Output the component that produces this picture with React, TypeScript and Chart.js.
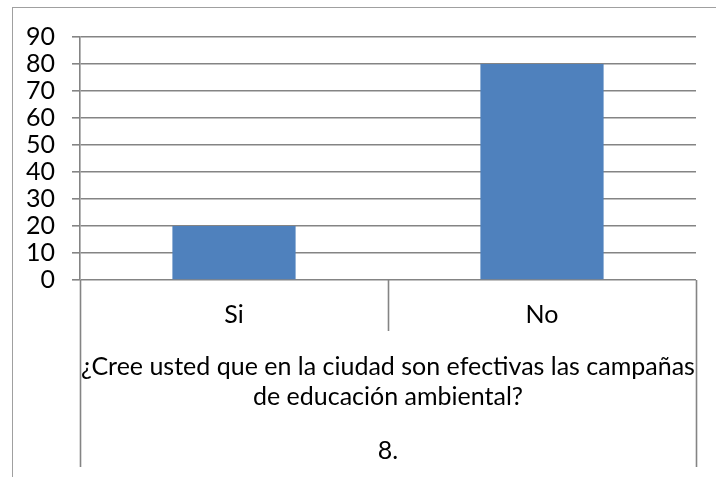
import React, { useEffect, useRef } from "react";
import { Chart, registerables } from "chart.js";

Chart.register(...registerables);

const categories = ["Si", "No"];
const values = [20, 80];
const groupLabelLines = [
  "¿Cree usted que en la ciudad son efectivas las campañas",
  "de educación ambiental?",
];
const outerLabel = "8.";
const yMin = 0;
const yMax = 90;
const yStep = 10;

const FONT_FAMILY = "Lato, 'Open Sans', sans-serif";
const FONT_SIZE = 25;
const GRID = "#848484";
const BAR = "#4F81BD";

const multiLevelAxisPlugin = {
  id: "multiLevelAxis",
  beforeDraw(chart: any) {
    const ctx = chart.ctx;
    ctx.save();
    ctx.strokeStyle = "#a0a0a0";
    ctx.lineWidth = 1;
    ctx.strokeRect(12.5, 7.5, 900, 700);
    ctx.restore();
  },
  afterDraw(chart: any) {
    const ctx = chart.ctx;
    const { left, right, bottom } = chart.chartArea;
    const xs = chart.scales.x;
    const n = categories.length;
    const c0 = xs.getPixelForValue(0);
    const c1 = xs.getPixelForValue(1);
    const step = c1 - c0;
    ctx.save();
    ctx.strokeStyle = GRID;
    ctx.lineWidth = 1.6;
    for (let i = 0; i <= n; i++) {
      const bx = Math.round(c0 - step / 2 + i * step) + 0.5;
      const outer = i === 0 || i === n;
      ctx.beginPath();
      ctx.moveTo(bx, bottom);
      ctx.lineTo(bx, bottom + (outer ? 187 : 51));
      ctx.stroke();
    }
    ctx.fillStyle = "#000";
    ctx.font = `${FONT_SIZE}px ${FONT_FAMILY}`;
    ctx.textAlign = "center";
    ctx.textBaseline = "alphabetic";
    categories.forEach((c, i) => {
      ctx.fillText(c, xs.getPixelForValue(i), bottom + 43);
    });
    const mid = (left + right) / 2;
    ctx.fillText(groupLabelLines[0], mid, bottom + 95);
    ctx.fillText(groupLabelLines[1], mid, bottom + 125);
    ctx.fillText(outerLabel, mid, bottom + 179);
    ctx.restore();
  },
};

export default function App() {
  const ref = useRef<HTMLCanvasElement>(null);
  useEffect(() => {
    if (!ref.current) return;
    const chart = new Chart(ref.current, {
      type: "bar",
      data: {
        labels: categories,
        datasets: [
          {
            data: values,
            backgroundColor: BAR,
            borderWidth: 0,
            barPercentage: 0.4,
            categoryPercentage: 1,
          },
        ],
      },
      options: {
        animation: false,
        responsive: true,
        maintainAspectRatio: false,
        layout: { padding: { top: 37, right: 20, left: 0, bottom: 0 } },
        plugins: { legend: { display: false }, tooltip: { enabled: false } },
        scales: {
          x: {
            offset: true,
            ticks: { display: false },
            grid: { display: false },
            border: { display: false },
            afterFit: (s: any) => {
              s.height = 197;
            },
          },
          y: {
            min: yMin,
            max: yMax,
            ticks: {
              stepSize: yStep,
              autoSkip: false,
              color: "#000",
              padding: 17,
              font: { family: FONT_FAMILY, size: FONT_SIZE },
            },
            grid: { color: GRID, lineWidth: 1.6, tickLength: 8 },
            border: { display: true, color: GRID, width: 1.6 },
            afterFit: (s: any) => {
              s.width = 80;
            },
          },
        },
      },
      plugins: [multiLevelAxisPlugin],
    });
    return () => chart.destroy();
  }, []);
  return (
    <div style={{ position: "absolute", left: 0, top: 0, width: 716, height: 477 }}>
      <canvas ref={ref} />
    </div>
  );
}
